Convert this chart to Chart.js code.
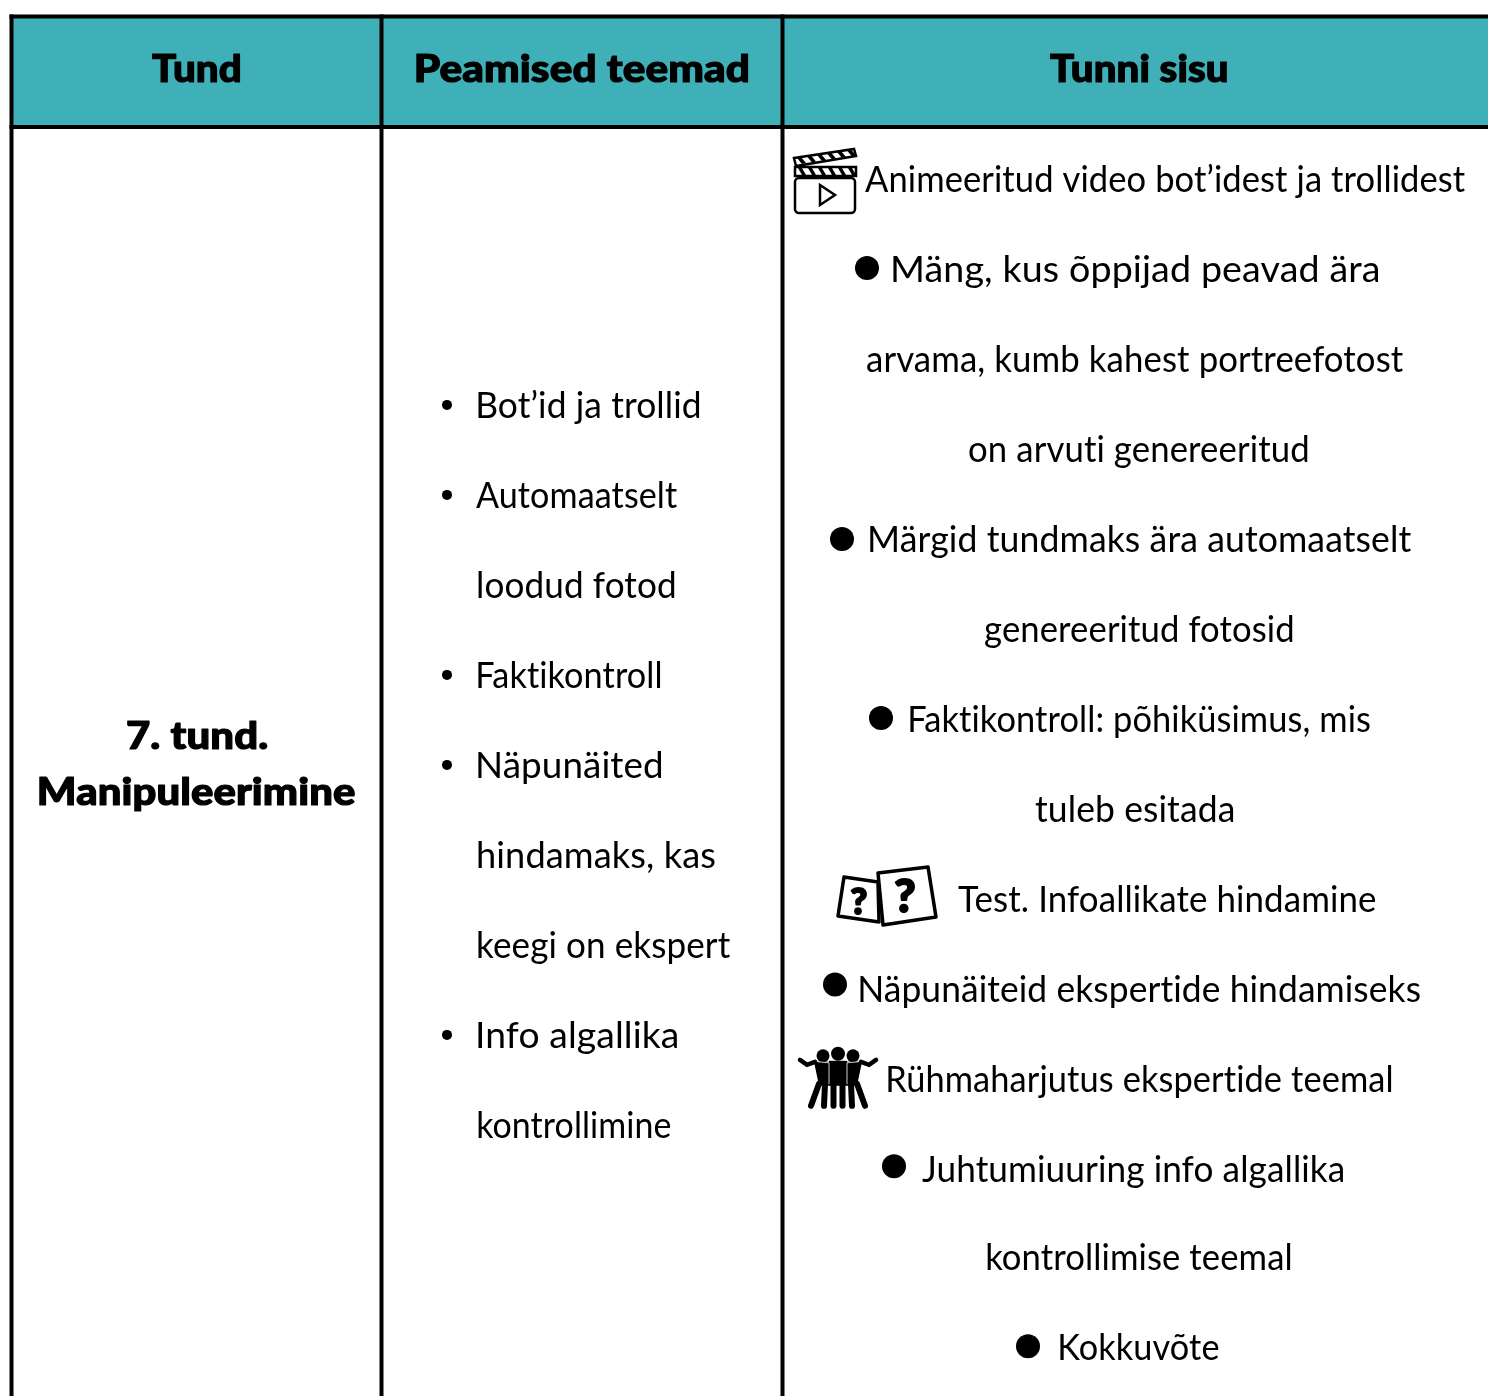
<!DOCTYPE html>
<html lang="et">
<head>
<meta charset="utf-8">
<title>7. tund. Manipuleerimine</title>
<script src="https://cdn.jsdelivr.net/npm/chart.js@4"></script>
<style>
    body { margin: 0; background: #fff; }
    canvas { display: block; }
</style>
</head>
<body>
<canvas id="table_chart" width="1488" height="1396"></canvas>
<script>
// Table content
const headers = ["Tund", "Peamised teemad", "Tunni sisu"];
const lessonTitle = ["7. tund.", "Manipuleerimine"];
const topics = ["Bot’id ja trollid", "Automaatselt", "loodud fotod", "Faktikontroll", "Näpunäited", "hindamaks, kas", "keegi on ekspert", "Info algallika", "kontrollimine"];
const contents = [
    "Animeeritud video bot’idest ja trollidest",
    "Mäng, kus õppijad peavad ära",
    "arvama, kumb kahest portreefotost",
    "on arvuti genereeritud",
    "Märgid tundmaks ära automaatselt",
    "genereeritud fotosid",
    "Faktikontroll: põhiküsimus, mis",
    "tuleb esitada",
    "Test. Infoallikate hindamine",
    "Näpunäiteid ekspertide hindamiseks",
    "Rühmaharjutus ekspertide teemal",
    "Juhtumiuuring info algallika",
    "kontrollimise teemal",
    "Kokkuvõte"
];

// Which lines carry a bullet (indexes into topics / contents)
const topicBullets = [0, 1, 3, 4, 7];
const contentBullets = [1, 4, 6, 9, 11, 13];

// Layout, x in picture pixels, y in text rows (one row = 90px, row 0 = first line of the last column)
const ROW_HEIGHT = 90, ROW_ZERO = 179;
const columnEdges = [11.5, 381.5, 782.5];
const tableRight = 1488;
const headerTopRow = -1.806, headerBottomRow = -0.578, tableBottomRow = 13.53;
const headerRow = -1.222;
const lessonRows = [6.19, 6.81];
const topicFirstRow = 2.51;
const baselineOffset = 13;

const headerSpans = [[152, 240], [416, 748], [1050, 1227]];
const lessonSpans = [[127, 267], [39, 355]];
const topicLefts = [478, 476, 478, 478, 478, 478, 478, 478, 478];
const topicRights = [700, 677, 675, 661, 662, 715, 730, 677, 671];
const contentSpans = [[865, 1465], [893, 1378], [867, 1403], [969, 1308], [870, 1411], [985, 1293], [910, 1370],
    [1035, 1233], [958, 1376], [860, 1420], [888, 1392], [922, 1343], [987, 1291], [1060, 1219]];
const topicBulletX = 447;
const contentBulletX = [867, 842, 881, 835, 894, 1028];
const contentBulletNudge = [-0.01, 0, -0.01, -0.05, -0.03, -0.03];
const contentRowNudge = { 12: -0.02, 13: -0.02 };

const rule = (x0, y0, x1, y1) => ({
    data: [{ x: x0, y: y0 }, { x: x1, y: y1 }],
    showLine: true,
    pointRadius: 0,
    borderColor: "#000",
    borderWidth: 4,
    borderCapStyle: "square",
    order: 1
});

// Writes a line so that it spans exactly left..right
function drawFitted(ctx, text, left, right, baseline, font, heavy) {
    ctx.font = font;
    ctx.letterSpacing = "0.1px";    // also switches off the ti ligature
    const m = ctx.measureText(text);
    const w = m.actualBoundingBoxLeft + m.actualBoundingBoxRight;
    const sx = (right - left) / w;
    ctx.save();
    ctx.translate(left + m.actualBoundingBoxLeft * sx, baseline);
    ctx.scale(sx, 1);
    ctx.textAlign = "left";
    ctx.textBaseline = "alphabetic";
    ctx.fillStyle = "#000";
    ctx.fillText(text, 0, 0);
    if (heavy) {
        ctx.strokeStyle = "#000";
        ctx.lineWidth = heavy;
        ctx.lineJoin = "round";
        ctx.strokeText(text, 0, 0);
    }
    ctx.restore();
}

function polyline(ctx, points, close) {
    ctx.beginPath();
    points.forEach((p, i) => i ? ctx.lineTo(p[0], p[1]) : ctx.moveTo(p[0], p[1]));
    if (close) ctx.closePath();
}

// Icons are drawn around their anchor point (0,0)
function drawClapper(ctx) {
    ctx.lineWidth = 2.5;
    ctx.beginPath();
    ctx.roundRect(-30, -1, 60, 35, 4);
    ctx.stroke();
    polyline(ctx, [[-5, 6], [10, 16], [-5, 26]], true);
    ctx.stroke();
    polyline(ctx, [[-30, -12], [31, -12], [31, -3], [-30, -3]], true);
    ctx.stroke();
    polyline(ctx, [[-31, -21], [29, -30], [31, -23], [-29, -13]], true);
    ctx.stroke();
    for (let i = 0; i < 6; i++) {
        const x = -27 + i * 10;
        polyline(ctx, [[x, -11], [x + 4, -11], [x + 8, -4], [x + 4, -4]], true);
        ctx.fill();
        polyline(ctx, [[x - 1, -21 - i * 1.5], [x + 3, -22 - i * 1.5], [x + 8, -16 - i * 1.5], [x + 4, -15 - i * 1.5]], true);
        ctx.fill();
    }
}

function drawDice(ctx) {
    ctx.lineWidth = 3.5;
    ctx.lineJoin = "round";
    polyline(ctx, [[-43, -22], [-9, -17], [-8, 23], [-49, 17]], true);
    ctx.stroke();
    polyline(ctx, [[-9, -26], [41, -32], [49, 18], [-4, 26]], true);
    ctx.fillStyle = "#fff";
    ctx.fill();
    ctx.stroke();
    ctx.fillStyle = "#000";
    ctx.strokeStyle = "#000";
    ctx.lineWidth = 2;
    ctx.textAlign = "center";
    ctx.textBaseline = "alphabetic";
    ctx.font = "900 36px Lato";
    ctx.fillText("?", -28, 15);
    ctx.strokeText("?", -28, 15);
    ctx.font = "900 46px Lato";
    ctx.fillText("?", 18, 13);
    ctx.strokeText("?", 18, 13);
}

function drawPeople(ctx) {
    ctx.lineCap = "round";
    [[-15, 2, 6.5], [0, 0, 7], [15, 2, 6.5]].forEach(h => {
        ctx.beginPath();
        ctx.arc(h[0], h[1], h[2], 0, Math.PI * 2);
        ctx.fill();
    });
    // torsos
    polyline(ctx, [[-24, 8], [-9, 8], [-9, 32], [-19, 32]], true);
    ctx.fill();
    polyline(ctx, [[24, 8], [9, 8], [9, 32], [19, 32]], true);
    ctx.fill();
    polyline(ctx, [[-9, 7], [9, 7], [9, 32], [-9, 32]], true);
    ctx.fill();
    ctx.lineWidth = 6;
    [[-19, 30, -27, 52], [-13, 30, -14, 52], [-4.5, 30, -4.5, 52], [4.5, 30, 4.5, 52], [13, 30, 14, 52], [19, 30, 27, 52]].forEach(l => {
        ctx.beginPath();
        ctx.moveTo(l[0], l[1]);
        ctx.lineTo(l[2], l[3]);
        ctx.stroke();
    });
    ctx.lineWidth = 4.5;
    polyline(ctx, [[-38, 6], [-31, 11], [-23, 8]]);
    ctx.stroke();
    polyline(ctx, [[38, 6], [31, 11], [23, 8]]);
    ctx.stroke();
    // thin gaps between the shoulders
    ctx.strokeStyle = "#fff";
    ctx.lineWidth = 0.8;
    [-1, 1].forEach(s => {
        polyline(ctx, [[s * 20, 8], [s * 9, 9], [s * 9, 30]]);
        ctx.stroke();
    });
}

const icons = [
    { draw: drawClapper, x: 825, row: 0 },
    { draw: drawDice, x: 887, row: 8 },
    { draw: drawPeople, x: 838, row: 9.72 }
];

const tableText = {
    id: "tableText",
    afterDatasetsDraw(chart) {
        const ctx = chart.ctx;
        const xs = chart.scales.x, ys = chart.scales.y;
        const px = v => xs.getPixelForValue(v);
        const py = r => ys.getPixelForValue(r);
        const body = "400 37px Lato";
        const bold = "900 38px Lato";

        headers.forEach((h, i) => drawFitted(ctx, h, px(headerSpans[i][0]), px(headerSpans[i][1]), py(headerRow) + 13, bold, 1.2));
        lessonTitle.forEach((t, i) => drawFitted(ctx, t, px(lessonSpans[i][0]), px(lessonSpans[i][1]), py(lessonRows[i]) + 13, bold, 1.2));
        topics.forEach((t, i) => drawFitted(ctx, t, px(topicLefts[i]), px(topicRights[i]), py(topicFirstRow + i) + baselineOffset, body));
        contents.forEach((t, i) => {
            const row = i + (contentRowNudge[i] || 0);
            drawFitted(ctx, t, px(contentSpans[i][0]), px(contentSpans[i][1]), py(row) + baselineOffset, body);
        });

        icons.forEach(icon => {
            ctx.save();
            ctx.translate(px(icon.x), py(icon.row));
            ctx.strokeStyle = "#000";
            ctx.fillStyle = "#000";
            icon.draw(ctx);
            ctx.restore();
        });
    }
};

new Chart("table_chart", {
    type: "scatter",
    data: {
        datasets: [
            {   // Header band
                data: [{ x: columnEdges[0], y: headerTopRow }, { x: tableRight, y: headerTopRow }],
                showLine: true,
                pointRadius: 0,
                borderWidth: 0,
                backgroundColor: "#40b0b8",
                fill: { value: headerBottomRow },
                order: 3
            },
            rule(columnEdges[0], headerTopRow, tableRight, headerTopRow),
            rule(columnEdges[0], headerBottomRow, tableRight, headerBottomRow),
            ...columnEdges.map(x => rule(x, headerTopRow, x, tableBottomRow)),
            {   // Small bullets of the topics column
                data: topicBullets.map(i => ({ x: topicBulletX, y: topicFirstRow + i })),
                pointRadius: 5,
                pointBackgroundColor: "#000",
                pointBorderWidth: 0,
                order: 2
            },
            {   // Big bullets of the lesson content column
                data: contentBullets.map((r, i) => ({ x: contentBulletX[i], y: r + contentBulletNudge[i] })),
                pointRadius: 12,
                pointBackgroundColor: "#000",
                pointBorderWidth: 0,
                order: 2
            }
        ]
    },
    options: {
        responsive: false,
        animation: false,
        clip: false,
        layout: { padding: 0, autoPadding: false },
        plugins: { legend: { display: false }, tooltip: { enabled: false } },
        scales: {
            x: { type: "linear", display: false, min: 0, max: 1488 },
            y: { type: "linear", display: false, reverse: true, min: -ROW_ZERO / ROW_HEIGHT, max: (1396 - ROW_ZERO) / ROW_HEIGHT }
        }
    },
    plugins: [tableText]
});
</script>
</body>
</html>
